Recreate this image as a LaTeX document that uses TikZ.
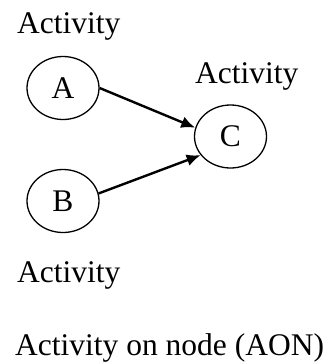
\documentclass[tikz,border=0pt]{standalone}
\usepackage{fontspec}
\setmainfont{Liberation Serif}
\usetikzlibrary{arrows.meta,shapes.geometric}
\begin{document}
\begin{tikzpicture}[x=1pt,y=-1pt,
  actnode/.style={draw,ellipse,line width=1.3pt,minimum width=72pt,minimum height=63pt,inner sep=0pt,font=\fontsize{31.5}{36}\selectfont},
  lbl/.style={anchor=base west,inner sep=0pt,font=\fontsize{31.5}{36}\selectfont},
  conn/.style={line width=2.4pt,-{Latex[length=14pt,width=12pt]}}]
\useasboundingbox (0,0) rectangle (329,362);
\node[actnode] (A) at (63,88) {A};
\node[actnode] (B) at (63,201) {B};
\node[actnode] (C) at (230.5,136.5) {C};
\node[lbl] (t1) at (17,33) {Activity};
\node[lbl] (t2) at (195,83) {Activity};
\node[lbl] (t3) at (17,282) {Activity};
\node[lbl] (t4) at (15,355) {Activity on node (AON)};
\draw[conn] (A.east) -- (C.166);
\draw[conn] (B.12) -- (C.212);
\end{tikzpicture}
\end{document}
